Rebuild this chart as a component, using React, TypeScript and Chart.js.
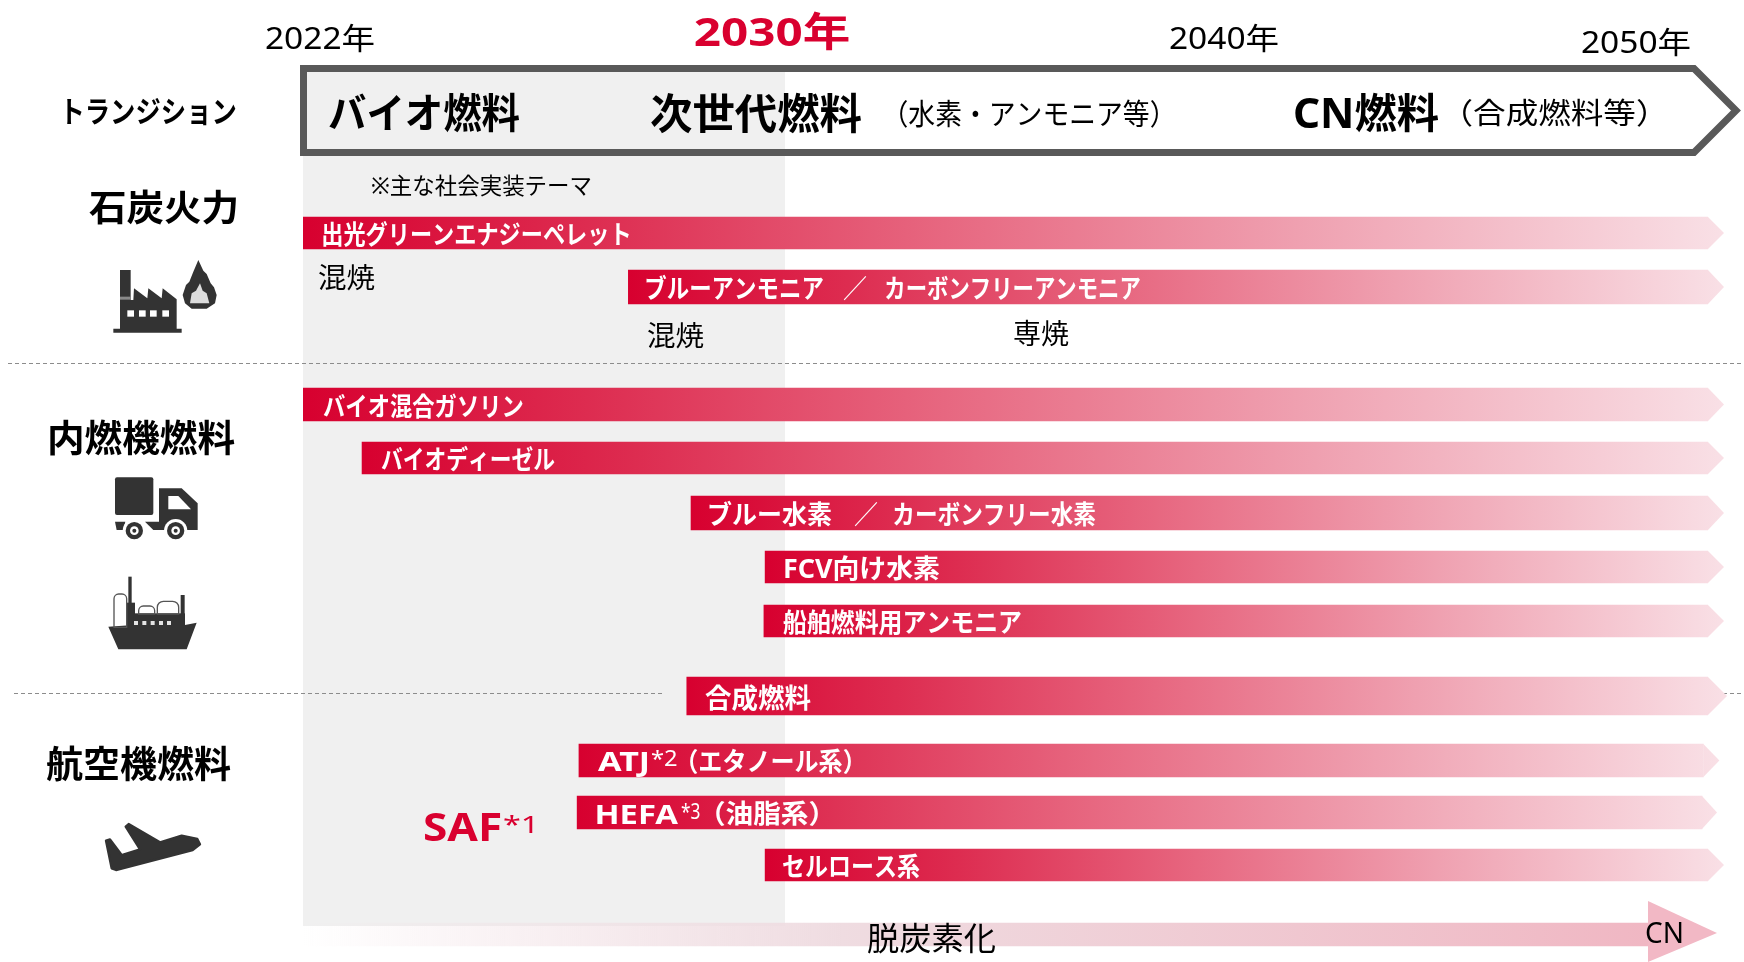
import React, { useEffect, useRef } from "react";
import { Chart, registerables, LinearScale, CategoryScale } from "chart.js";

// ---------- data ----------
const rowNames = [
  "出光グリーンエナジーペレット",
  "ブルーアンモニア ／ カーボンフリーアンモニア",
  "バイオ混合ガソリン",
  "バイオディーゼル",
  "ブルー水素 ／ カーボンフリー水素",
  "FCV向け水素",
  "船舶燃料用アンモニア",
  "合成燃料",
  "ATJ（エタノール系）",
  "HEFA（油脂系）",
  "セルロース系",
  "脱炭素化",
];
const startYears = [2022, 2027.4, 2022, 2022.98, 2028.44, 2029.67, 2029.65, 2028.37, 2026.58, 2026.55, 2029.67, 2022];
const endYears = [2050, 2050, 2050, 2050, 2050, 2050, 2050, 2050, 2049.9, 2049.87, 2050, 2048.7];
const yearLabels = ["2022年", "2030年", "2040年", "2050年"];
const sectorLabels = ["トランジション", "石炭火力", "内燃機燃料", "航空機燃料"];
const fuelStages = ["バイオ燃料", "次世代燃料", "（水素・アンモニア等）", "CN燃料", "（合成燃料等）"];
const annotations = ["※主な社会実装テーマ", "混焼", "混焼", "専焼"];

// ---------- layout ----------
const FONT = '"Noto Sans", "Noto Sans CJK JP", sans-serif';
const RED = "#d9002f";
const W = 1744;
const H = 962;
const X_LEFT = 303;
const X_RIGHT = 1708;
const ROW_PIXELS = [233, 287, 404.5, 458, 513, 567, 621, 696, 760.5, 812.5, 865, 934.5];
const ROW_THICK = [32, 34, 33, 32, 34, 32, 32, 38, 33, 33, 32, 23];
const TIP_DEPTH = [16, 16, 16, 16, 16, 16, 16, 19, 16, 15, 16, 0];
// timeline: 2022-2030 is drawn wider than 2030-2050
const KNOT_YEARS = [2022, 2030, 2050];
const KNOT_FRACS = [0, (785 - X_LEFT) / (X_RIGHT - X_LEFT), 1];

class TimelineScale extends LinearScale {
  static id = "timeline";
  static defaults = {};
  getPixelForValue(v: number) {
    const i = v <= KNOT_YEARS[1] ? 0 : 1;
    const f =
      KNOT_FRACS[i] +
      ((v - KNOT_YEARS[i]) / (KNOT_YEARS[i + 1] - KNOT_YEARS[i])) * (KNOT_FRACS[i + 1] - KNOT_FRACS[i]);
    return this.getPixelForDecimal(f);
  }
}
class RowScale extends CategoryScale {
  static id = "rows";
  static defaults = {};
  getPixelForValue(v: any) {
    const i = typeof v === "number" ? v : this.parse(v);
    return ROW_PIXELS[i];
  }
}
Chart.register(...registerables, TimelineScale, RowScale);

// draws real text, fitting its ink between x0 and x1
function fitText(
  ctx: CanvasRenderingContext2D,
  text: string,
  x0: number,
  x1: number,
  yc: number,
  size: number,
  weight: string,
  color: string
) {
  ctx.save();
  ctx.font = `${weight} ${size}px ${FONT}`;
  ctx.textBaseline = "middle";
  ctx.textAlign = "left";
  ctx.fillStyle = color;
  const tm = ctx.measureText(text);
  const ink = tm.actualBoundingBoxRight + tm.actualBoundingBoxLeft;
  const sx = (x1 - x0) / ink;
  ctx.translate(x0 + tm.actualBoundingBoxLeft * sx, yc + size * 0.09 + 1);
  ctx.scale(sx, 1);
  ctx.fillText(text, 0, 0);
  ctx.restore();
}

function poly(ctx: CanvasRenderingContext2D, pts: number[][]) {
  ctx.beginPath();
  pts.forEach((p, i) => (i ? ctx.lineTo(p[0], p[1]) : ctx.moveTo(p[0], p[1])));
  ctx.closePath();
  ctx.fill();
}

// icons are sketched in 3x local units
function icons(ctx: CanvasRenderingContext2D) {
  const DARK = "#333333";
  const at = (ox: number, oy: number, fn: () => void) => {
    ctx.save();
    ctx.translate(ox, oy);
    ctx.scale(1 / 3, 1 / 3);
    ctx.fillStyle = DARK;
    fn();
    ctx.restore();
  };
  // factory + flame
  at(90, 250, () => {
    ctx.fillRect(90, 60, 32, 90);
    poly(ctx, [[90, 150], [130, 150], [132, 115], [172, 145], [175, 115], [215, 145], [218, 115], [260, 148], [260, 236], [275, 236], [275, 248], [70, 248], [70, 236], [90, 236]]);
    ctx.fillStyle = "#8a8a8a";
    ctx.fillRect(90, 140, 32, 9);
    ctx.fillStyle = "#fff";
    [112, 147, 180, 217].forEach((x) => ctx.fillRect(x, 181, 20, 19));
    ctx.fillStyle = DARK;
    poly(ctx, [[325, 30], [340, 62], [350, 72], [362, 100], [372, 112], [380, 135], [375, 160], [350, 176], [305, 176], [285, 160], [278, 135], [288, 105], [298, 95], [310, 65]]);
    ctx.fillStyle = "#dddddd";
    poly(ctx, [[330, 100], [338, 122], [350, 130], [358, 160], [300, 160], [305, 130], [318, 122]]);
  });
  // truck + ship
  at(90, 470, () => {
    ctx.beginPath();
    ctx.roundRect(75, 22, 115, 113, 6);
    ctx.fill();
    poly(ctx, [[207, 55], [275, 55], [323, 100], [323, 180], [207, 180]]);
    poly(ctx, [[75, 155], [106, 155], [100, 180], [80, 180]]);
    poly(ctx, [[165, 155], [207, 155], [207, 180], [190, 180]]);
    ctx.fillStyle = "#fff";
    poly(ctx, [[235, 78], [265, 78], [303, 118], [235, 118]]);
    [133, 257].forEach((cx) => {
      ctx.fillStyle = "#fff";
      ctx.beginPath();
      ctx.arc(cx, 182, 35, 0, Math.PI * 2);
      ctx.fill();
      ctx.fillStyle = DARK;
      ctx.beginPath();
      ctx.arc(cx, 182, 26, 0, Math.PI * 2);
      ctx.fill();
      ctx.fillStyle = "#fff";
      ctx.beginPath();
      ctx.arc(cx, 182, 13, 0, Math.PI * 2);
      ctx.fill();
      ctx.fillStyle = DARK;
      ctx.beginPath();
      ctx.arc(cx, 182, 6, 0, Math.PI * 2);
      ctx.fill();
    });
    // ship
    ctx.fillStyle = DARK;
    ctx.fillRect(115, 320, 10, 90);
    ctx.fillRect(110, 398, 25, 70);
    ctx.fillRect(130, 430, 155, 40);
    ctx.fillRect(272, 375, 12, 90);
    poly(ctx, [[55, 470], [130, 465], [285, 465], [320, 458], [290, 538], [85, 538]]);
    ctx.strokeStyle = "#555";
    ctx.lineWidth = 4;
    ctx.beginPath();
    ctx.roundRect(72, 372, 38, 100, [14, 14, 0, 0]);
    ctx.stroke();
    ctx.beginPath();
    ctx.roundRect(146, 408, 48, 24, [14, 14, 0, 0]);
    ctx.stroke();
    ctx.beginPath();
    ctx.roundRect(202, 394, 64, 38, [18, 18, 0, 0]);
    ctx.stroke();
    ctx.fillStyle = "#e4e4e4";
    [132, 157, 182, 207, 231].forEach((x) => ctx.fillRect(x, 453, 12, 12));
  });
  // plane
  at(90, 810, () => {
    ctx.strokeStyle = DARK;
    ctx.lineWidth = 7;
    ctx.lineJoin = "round";
    const pts = [[48, 92], [60, 88], [95, 135], [150, 118], [107, 50], [116, 42], [210, 97], [275, 77], [322, 87], [330, 103], [308, 120], [78, 180], [65, 175]];
    poly(ctx, pts);
    ctx.beginPath();
    pts.forEach((p, i) => (i ? ctx.lineTo(p[0], p[1]) : ctx.moveTo(p[0], p[1])));
    ctx.closePath();
    ctx.stroke();
  });
}

const roadmapPlugin = {
  id: "roadmap",
  beforeDatasetsDraw(chart: any) {
    const { ctx, scales } = chart;
    const px = scales.x.getPixelForValue(KNOT_YEARS[1]);
    const p0 = scales.x.getPixelForValue(KNOT_YEARS[0]);
    ctx.save();
    // near-term panel
    ctx.fillStyle = "#f0f0f0";
    ctx.fillRect(p0, 68, px - p0, 926 - 68);
    // transition arrow outline
    ctx.strokeStyle = "#595959";
    ctx.lineWidth = 7;
    ctx.lineJoin = "miter";
    ctx.beginPath();
    ctx.moveTo(303.5, 68.5);
    ctx.lineTo(1694, 68.5);
    ctx.lineTo(1736, 110.5);
    ctx.lineTo(1694, 152.5);
    ctx.lineTo(303.5, 152.5);
    ctx.closePath();
    ctx.stroke();
    // separators
    ctx.strokeStyle = "#8c8c8c";
    ctx.lineWidth = 1;
    ctx.setLineDash([4, 3]);
    [
      [8, 1744, 363.5],
      [14, 665, 693.5],
      [1723, 1744, 693.5],
    ].forEach(([a, b, y]) => {
      ctx.beginPath();
      ctx.moveTo(a, y);
      ctx.lineTo(b, y);
      ctx.stroke();
    });
    ctx.setLineDash([]);
    ctx.restore();
    icons(ctx);
  },
  afterDatasetsDraw(chart: any) {
    const { ctx } = chart;
    // arrow tips continue each bar's own gradient
    rowNames.forEach((_, r) => {
      const el = chart.getDatasetMeta(r).data[r];
      if (!el) return;
      const top = el.y - el.height / 2;
      const bot = el.y + el.height / 2;
      ctx.save();
      ctx.fillStyle = el.options.backgroundColor;
      if (TIP_DEPTH[r] > 0) {
        poly(ctx, [[el.x, top], [el.x + TIP_DEPTH[r], el.y], [el.x, bot]]);
      } else {
        ctx.fillStyle = "#f2b8c5";
        poly(ctx, [[el.x, 901], [1717, 933], [el.x, 962]]);
      }
      ctx.restore();
    });

    const t = (s: string, a: number, b: number, y: number, size: number, w = "normal", c = "#000") =>
      fitText(ctx, s, a, b, y, size, w, c);

    // years
    t(yearLabels[0], 266, 374, 37, 30);
    t(yearLabels[1], 695, 849, 30, 40, "bold", RED);
    t(yearLabels[2], 1170, 1278, 37, 30);
    t(yearLabels[3], 1582, 1690, 41, 30);
    // sectors
    t(sectorLabels[0], 67, 236, 110, 30, "bold");
    t(sectorLabels[1], 89, 236, 207, 36, "bold");
    t(sectorLabels[2], 50, 235, 437, 37, "bold");
    t(sectorLabels[3], 46, 231, 763, 37, "bold");
    // fuel stages
    t(fuelStages[0], 329, 520, 112, 41, "bold");
    t(fuelStages[1], 651, 862, 112, 42, "bold");
    t(fuelStages[2], 900, 1158, 113, 29);
    t(fuelStages[3], 1295, 1439, 112, 41, "bold");
    t(fuelStages[4], 1463, 1646, 112, 29);
    // notes
    t(annotations[0], 372, 591, 184, 23);
    t(annotations[1], 319, 375, 277, 28);
    t(annotations[2], 648, 704, 335, 28);
    t(annotations[3], 1014, 1069, 333, 28);
    // bar labels
    const WH = "#ffffff";
    const [blueAmmonia, carbonFreeAmmonia] = rowNames[1].split(" ／ ");
    const [blueH2, carbonFreeH2] = rowNames[4].split(" ／ ");
    t(rowNames[0], 323, 629, 233, 26, "bold", WH);
    t(blueAmmonia, 646, 823, 287, 26, "bold", WH);
    t("／", 843, 867, 287, 26, "normal", WH);
    t(carbonFreeAmmonia, 886, 1140, 287, 26, "bold", WH);
    t(rowNames[2], 323, 523, 405, 26, "bold", WH);
    t(rowNames[3], 381, 555, 458, 26, "bold", WH);
    t(blueH2, 709, 832, 513, 26, "bold", WH);
    t("／", 854, 878, 513, 26, "normal", WH);
    t(carbonFreeH2, 894, 1096, 513, 26, "bold", WH);
    t(rowNames[5], 785, 940, 567, 26, "bold", WH);
    t(rowNames[6], 783, 1021, 621, 26, "bold", WH);
    t(rowNames[7], 705, 811, 697, 27, "bold", WH);
    t("ATJ", 598, 648, 760, 26, "bold", WH);
    t("*2", 651, 677, 757, 22, "normal", WH);
    t("（エタノール系）", 690, 851, 760, 26, "bold", WH);
    t("HEFA", 597, 678, 813, 26, "bold", WH);
    t("*3", 681, 700, 810, 22, "normal", WH);
    t("（油脂系）", 716, 818, 812, 26, "bold", WH);
    t(rowNames[10], 783, 920, 865, 26, "bold", WH);
    // SAF
    t("SAF", 424, 500, 825, 40, "bold", RED);
    t("*1", 503, 533, 823, 24, "normal", RED);
    // bottom
    t(rowNames[11], 867, 995, 937, 32);
    t("CN", 1646, 1682, 931, 29);
  },
};

export default function App() {
  const ref = useRef<HTMLCanvasElement | null>(null);
  useEffect(() => {
    const canvas = ref.current!;
    const chart = new Chart(canvas, {
      type: "bar",
      data: {
        labels: rowNames,
        datasets: rowNames.map((name, r) => ({
          label: name,
          data: rowNames.map((_, i) => (i === r ? [startYears[r], endYears[r]] : null)),
          grouped: false,
          barPercentage: 1,
          categoryPercentage: 1,
          maxBarThickness: ROW_THICK[r],
          borderWidth: 0,
          backgroundColor: (c: any) => {
            const x = c.chart.scales.x;
            const a = x ? x.getPixelForValue(startYears[r]) : NaN;
            const b = x ? x.getPixelForValue(endYears[r]) + TIP_DEPTH[r] : NaN;
            if (!Number.isFinite(a) || !Number.isFinite(b)) return RED;
            const g = c.chart.ctx.createLinearGradient(a, 0, b, 0);
            if (r === rowNames.length - 1) {
              g.addColorStop(0, "rgba(240,220,225,0)");
              g.addColorStop(0.4, "#efdce1");
              g.addColorStop(1, "#f0b7c3");
            } else {
              g.addColorStop(0, "#d7002f");
              g.addColorStop(0.2, "#dd2c50");
              g.addColorStop(0.45, "#e76780");
              g.addColorStop(0.7, "#efa0b0");
              g.addColorStop(1, "#f9e0e6");
            }
            return g;
          },
        })),
      },
      options: {
        indexAxis: "y",
        responsive: false,
        animation: false,
        devicePixelRatio: 1,
        layout: { padding: { left: X_LEFT, right: W - X_RIGHT, top: 0, bottom: 0 } },
        scales: {
          x: { type: "timeline", min: KNOT_YEARS[0], max: KNOT_YEARS[2], display: false },
          y: { type: "rows", display: false },
        },
        plugins: { legend: { display: false }, tooltip: { enabled: false } },
      } as any,
      plugins: [roadmapPlugin],
    } as any);
    return () => chart.destroy();
  }, []);
  return (
    <div style={{ position: "absolute", left: 0, top: 0, width: W, height: H, background: "#fff" }}>
      <canvas ref={ref} width={W} height={H} style={{ display: "block" }} />
    </div>
  );
}
